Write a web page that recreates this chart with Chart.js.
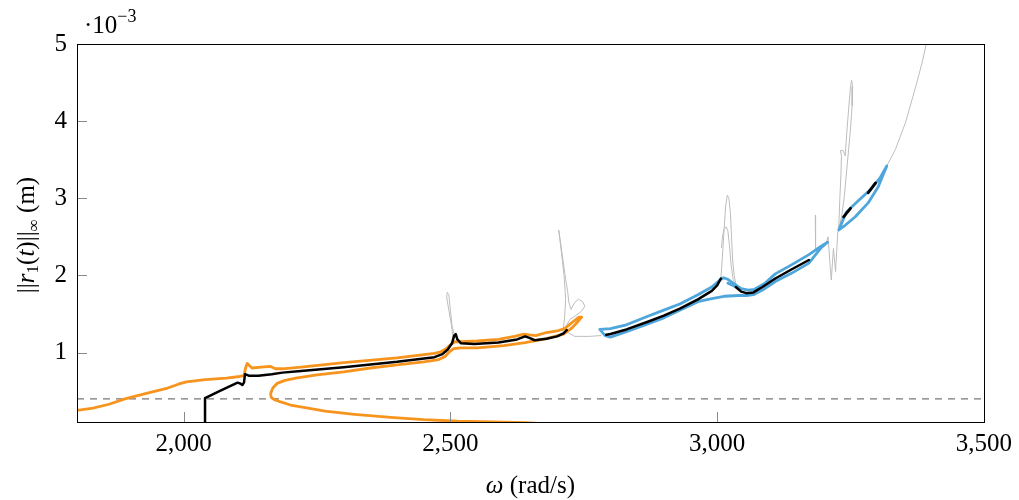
<!DOCTYPE html>
<html><head><meta charset="utf-8">
<script src="https://cdn.jsdelivr.net/npm/chart.js@4.4.1/dist/chart.umd.min.js"></script>
<style>html,body{margin:0;padding:0;background:#fff;}#wrap{width:1019px;height:500px;position:relative;}</style>
</head><body><div id="wrap"><canvas id="c"></canvas></div>
<script>
// ---- data (omega in rad/s, amplitude in 1e-3 m) ----
const xTicks = [2000, 2500, 3000, 3500];
const yTicks = [1, 2, 3, 4, 5];
const thresholdX = [1800, 3500];
const thresholdY = [0.4, 0.4];

const orangeX = [2700,2640,2580,2514,2450,2388,2320,2265,2225,2200,2182,2170,2164,2163,2167,2175,2190,2210,2250,2300,2350,2400,2450,2478,2490,2498,2506,2520,2550,2600,2640,2680,2712,2728,2740,2746,2741,2728,2714,2700,2680,2660,2648,2638,2620,2590,2550,2520,2508,2500,2492,2482,2470,2400,2300,2220,2185,2172,2163,2145,2128,2122,2119,2116,2113,2105,2080,2040,2005,1990,1970,1930,1890,1860,1830,1800];
const orangeY = [0.07,0.09,0.10,0.11,0.13,0.16,0.20,0.24,0.29,0.32,0.36,0.39,0.42,0.47,0.54,0.60,0.64,0.67,0.71,0.75,0.80,0.84,0.88,0.91,0.95,1.01,1.05,1.06,1.06,1.09,1.13,1.18,1.24,1.32,1.41,1.46,1.46,1.39,1.31,1.28,1.26,1.22,1.23,1.24,1.21,1.17,1.15,1.14,1.14,1.10,1.05,1.01,0.99,0.93,0.87,0.81,0.79,0.79,0.82,0.81,0.80,0.84,0.86,0.80,0.70,0.69,0.67,0.65,0.62,0.59,0.54,0.47,0.40,0.33,0.28,0.25];

const blueLoopX = [2780,2800,2830,2870,2900,2930,2964,2990,3005,3012,3020,3030,3045,3058,3070,3090,3109,3140,3172,3195,3207,3195,3172,3140,3109,3085,3068,3055,3040,3013,2990,2964,2930,2900,2870,2830,2800,2790,2780];
const blueLoopY = [1.30,1.31,1.36,1.47,1.55,1.63,1.75,1.85,1.94,1.97,1.95,1.90,1.83,1.81,1.82,1.90,2.02,2.14,2.27,2.38,2.43,2.36,2.16,2.03,1.92,1.81,1.75,1.74,1.74,1.73,1.70,1.66,1.55,1.45,1.37,1.27,1.20,1.22,1.30];
const blueStubX = [3020,3030,3043];
const blueStubY = [1.90,1.87,1.82];
const blueLoop2X = [3228,3242,3265,3287,3305,3318,3302,3283,3259,3240,3228];
const blueLoop2Y = [2.59,2.82,2.97,3.11,3.26,3.42,3.15,2.94,2.76,2.65,2.59];

const black1X = [2040,2040,2070,2101,2106,2110,2113,2115,2122,2140,2165,2185,2220,2300,2400,2470,2485,2495,2503,2507,2510,2513,2520,2545,2590,2625,2640,2648,2658,2680,2700,2712,2718];
const black1Y = [0.02,0.41,0.51,0.61,0.60,0.58,0.61,0.72,0.70,0.70,0.72,0.74,0.76,0.81,0.88,0.94,0.98,1.04,1.12,1.22,1.24,1.17,1.12,1.11,1.13,1.17,1.21,1.19,1.16,1.18,1.21,1.25,1.29];
const black2X = [2792,2800,2830,2870,2900,2930,2964,2990,3000,3007];
const black2Y = [1.23,1.24,1.30,1.40,1.48,1.57,1.69,1.80,1.87,1.96];
const black3X = [3035,3045,3055,3068,3085,3109,3140,3172];
const black3Y = [1.85,1.79,1.77,1.78,1.85,1.96,2.08,2.20];
const black4X = [3237,3250];
const black4Y = [2.76,2.87];
const black5X = [3283,3297];
const black5Y = [3.07,3.20];

const gray1X = [2506,2502,2497,2493,2494,2497,2500,2503,2508];
const gray1Y = [1.15,1.35,1.55,1.72,1.78,1.75,1.55,1.35,1.20];
const gray2X = [2711,2714,2716,2713,2708,2703,2706,2711,2716,2720,2722,2726,2733,2740,2748,2752,2745,2735,2724,2716,2720,2733,2760,2782];
const gray2Y = [1.27,1.45,1.70,2.00,2.30,2.59,2.45,2.20,1.95,1.78,1.65,1.56,1.65,1.69,1.66,1.60,1.53,1.48,1.43,1.33,1.26,1.21,1.21,1.22];
const gray3X = [3007,3010,3013,3016,3019,3022,3025,3027,3029,3032,3036];
const gray3Y = [1.96,2.25,2.60,2.90,3.04,3.00,2.80,2.50,2.20,2.00,1.86];
const gray4X = [3008,3010,3013,3017,3020,3023,3026,3030,3034];
const gray4Y = [2.36,2.50,2.60,2.63,2.58,2.40,2.15,1.95,1.88];
const gray5X = [3184,3184,3185,3190];
const gray5Y = [2.78,2.55,2.33,2.32];
const gray6X = [3204,3208,3210,3212,3214,3216,3218,3220,3222,3224,3226,3228];
const gray6Y = [2.42,2.50,2.30,2.10,1.94,2.15,2.35,2.20,2.05,2.30,2.55,2.60];
const gray7X = [3228,3230,3232,3233,3231,3236,3240,3243,3247,3250,3252,3254,3253,3250,3246,3242,3238,3234,3230];
const gray7Y = [2.62,3.00,3.30,3.55,3.62,3.62,3.55,3.85,4.20,4.45,4.53,4.45,4.20,3.90,3.60,3.30,3.00,2.80,2.65];
const gray8X = [3318,3334,3353,3372,3385,3392,3398];
const gray8Y = [3.42,3.63,3.98,4.44,4.78,5.00,5.20];

// ---- build ----
const pts = (xs, ys) => xs.map((x, i) => ({x: x, y: ys[i]}));
const ORANGE = '#f7941d', BLUE = '#4ea6dc', GRAY = '#bdbdbd';
function line(xs, ys, color, width, extra) {
  return Object.assign({data: pts(xs, ys), borderColor: color, borderWidth: width, showLine: true,
    pointRadius: 0, pointHoverRadius: 0, fill: false, tension: 0,
    borderJoinStyle: 'round', borderCapStyle: 'round'}, extra || {});
}
// first dataset is drawn on top
const datasets = [
  line(black1X, black1Y, '#000', 2.5),
  line(black2X, black2Y, '#000', 2.5),
  line(black3X, black3Y, '#000', 2.5),
  line(black4X, black4Y, '#000', 2.8),
  line(black5X, black5Y, '#000', 2.8),
  line(blueStubX, blueStubY, BLUE, 2.8),
  line(blueLoopX, blueLoopY, BLUE, 2.8),
  line(blueLoop2X, blueLoop2Y, BLUE, 2.8),
  line(orangeX, orangeY, ORANGE, 2.8),
  line(gray1X, gray1Y, GRAY, 1),
  line(gray2X, gray2Y, GRAY, 1),
  line(gray3X, gray3Y, GRAY, 1),
  line(gray4X, gray4Y, GRAY, 1),
  line(gray5X, gray5Y, GRAY, 1),
  line(gray6X, gray6Y, GRAY, 1),
  line(gray7X, gray7Y, GRAY, 1),
  line(gray8X, gray8Y, GRAY, 1),
  line(thresholdX, thresholdY, '#777', 1.2, {borderDash: [7, 6], borderCapStyle: 'butt'})
];

const FONT = '"Liberation Serif", "Times New Roman", serif';
function drawSegs(ctx, segs, x, y, center) {
  let total = 0;
  segs.forEach(s => { ctx.font = (s.it ? 'italic ' : '') + (s.size) + 'px ' + FONT; s.w = ctx.measureText(s.t).width; total += s.w; });
  let cx = center ? x - total / 2 : x;
  segs.forEach(s => {
    ctx.font = (s.it ? 'italic ' : '') + (s.size) + 'px ' + FONT;
    ctx.fillText(s.t, cx, y + (s.dy || 0));
    cx += s.w;
  });
}

const decor = {
  id: 'decor',
  afterDatasetsDraw(chart) {
    const {ctx, chartArea: a, scales} = chart;
    ctx.save();
    // inward tick marks
    ctx.strokeStyle = '#8a8a8a'; ctx.lineWidth = 1;
    ctx.beginPath();
    yTicks.forEach(v => { const p = Math.round(scales.y.getPixelForValue(v)) + 0.5; ctx.moveTo(a.left, p); ctx.lineTo(a.left + 10, p); });
    xTicks.forEach(v => { const p = Math.round(scales.x.getPixelForValue(v)) + 0.5; ctx.moveTo(p, a.bottom); ctx.lineTo(p, a.bottom - 10); });
    ctx.stroke();
    // frame
    ctx.strokeStyle = '#000'; ctx.lineWidth = 1;
    ctx.strokeRect(Math.round(a.left) + 0.5, Math.round(a.top) + 0.5, Math.round(a.right - a.left), Math.round(a.bottom - a.top));
    // texts
    ctx.fillStyle = '#000'; ctx.textBaseline = 'alphabetic'; ctx.textAlign = 'left';
    drawSegs(ctx, [{t: '\u00b710', size: 25}, {t: '\u22123', size: 18, dy: -11}], 84, 33, false);
    drawSegs(ctx, [{t: '\u03c9', size: 25, it: true}, {t: ' (rad/s)', size: 25}], (a.left + a.right) / 2, 493, true);
    ctx.translate(34, 235); ctx.rotate(-Math.PI / 2);
    drawSegs(ctx, [{t: '||', size: 25}, {t: 'r', size: 25, it: true}, {t: '1', size: 17, dy: 4},
      {t: '(', size: 25}, {t: 't', size: 25, it: true}, {t: ')||', size: 25}, {t: '\u221e', size: 17, dy: 5},
      {t: ' (m)', size: 25}], 0, 0, true);
    ctx.restore();
  }
};

new Chart(document.getElementById('c'), {
  type: 'scatter',
  data: {datasets: datasets},
  options: {
    responsive: true, maintainAspectRatio: false, animation: false,
    layout: {padding: {left: 0, right: 34, top: 44, bottom: 0}},
    plugins: {legend: {display: false}, tooltip: {enabled: false}},
    scales: {
      x: {type: 'linear', min: 1800, max: 3500,
        afterBuildTicks: s => { s.ticks = xTicks.map(v => ({value: v})); },
        afterFit: s => { s.height = 78; },
        grid: {display: false, drawTicks: false}, border: {display: false},
        ticks: {padding: 7, color: '#000', font: {family: FONT, size: 25}, maxRotation: 0,
          callback: v => v.toLocaleString('en-US')}},
      y: {type: 'linear', min: 0.1, max: 5,
        afterBuildTicks: s => { s.ticks = yTicks.map(v => ({value: v})); },
        afterFit: s => { s.width = 77; },
        grid: {display: false, drawTicks: false}, border: {display: false},
        ticks: {padding: 10, color: '#000', font: {family: FONT, size: 25}, callback: v => String(v)}}
    }
  },
  plugins: [decor]
});
</script></body></html>
